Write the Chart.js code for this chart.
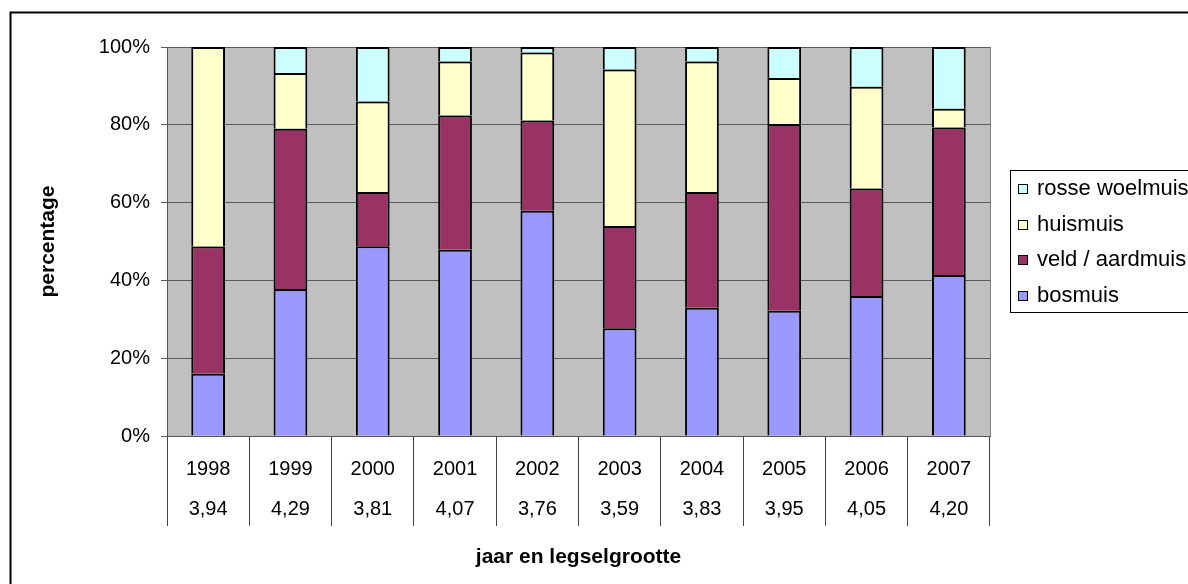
<!DOCTYPE html>
<html>
<head>
<meta charset="utf-8">
<script src="https://cdn.jsdelivr.net/npm/chart.js@4.4.1/dist/chart.umd.min.js"></script>
<style>
  html, body { margin: 0; padding: 0; background: #fff; overflow: hidden; }
  canvas { display: block; }
</style>
</head>
<body>
<canvas id="chart" width="1200" height="600"></canvas>
<script>
// Jaren en gemiddelde legselgrootte per jaar
const years = ['1998', '1999', '2000', '2001', '2002', '2003', '2004', '2005', '2006', '2007'];
const clutchSizes = ['3,94', '4,29', '3,81', '4,07', '3,76', '3,59', '3,83', '3,95', '4,05', '4,20'];

// Aandeel per muizensoort (%)
const bosmuis       = [16.0, 37.8, 48.8, 47.9, 57.9, 27.7, 33.0, 32.2, 36.0, 41.4];
const veldAardmuis  = [32.7, 41.2, 13.9, 34.5, 23.2, 26.3, 29.7, 48.0, 27.6, 37.9];
const huismuis      = [51.3, 14.3, 23.3, 13.9, 17.5, 40.2, 33.6, 11.8, 26.2,  4.8];
const rosseWoelmuis = [ 0.0,  6.7, 14.0,  3.7,  1.4,  5.8,  3.7,  8.0, 10.2, 15.9];

const yTicks = [0, 20, 40, 60, 80, 100];

const FONT = "'Liberation Sans', Arial, sans-serif";

// Grijze plotachtergrond, kader om de grafiek en de legenda met rand
const framePlugin = {
  id: 'frame',
  beforeDraw(chart) {
    const { ctx, chartArea: a } = chart;
    ctx.save();
    ctx.fillStyle = '#ffffff';
    ctx.fillRect(0, 0, chart.width, chart.height);
    ctx.fillStyle = '#C0C0C0';
    ctx.fillRect(a.left, a.top, a.right - a.left, a.bottom - a.top);
    ctx.lineWidth = 2;
    ctx.strokeStyle = '#000';
    ctx.strokeRect(10.5, 12.5, 3000, 3000);
    ctx.restore();
  },
  beforeDatasetsDraw(chart) {
    const { ctx, chartArea: a } = chart;
    ctx.save();
    ctx.strokeStyle = '#808080';
    ctx.lineWidth = 1;
    ctx.beginPath();
    ctx.moveTo(Math.round(a.right) + 0.5, a.top);
    ctx.lineTo(Math.round(a.right) + 0.5, a.bottom);
    ctx.stroke();
    ctx.restore();
  },
  afterDraw(chart) {
    const { ctx } = chart;
    const box = { x: 1010.5, y: 170.5, w: 400, h: 142 };
    ctx.save();
    ctx.strokeStyle = '#000';
    ctx.lineWidth = 1;
    ctx.strokeRect(box.x, box.y, box.w, box.h);
    const items = chart.data.datasets.slice().reverse();
    ctx.font = '22px ' + FONT;
    ctx.textBaseline = 'middle';
    ctx.textAlign = 'left';
    items.forEach((ds, i) => {
      const cy = 188 + i * 35.7;
      ctx.fillStyle = ds.backgroundColor;
      ctx.fillRect(1018.5, Math.round(cy - 4) + 0.5, 9, 9);
      ctx.strokeStyle = '#000';
      ctx.strokeRect(1018.5, Math.round(cy - 4) + 0.5, 9, 9);
      ctx.fillStyle = '#000';
      ctx.fillText(ds.label, 1037, cy + 1);
    });
    ctx.restore();
  }
};

const barStyle = {
  borderColor: '#000000',
  borderWidth: 2,
  barPercentage: 0.41,
  categoryPercentage: 1.0
};

new Chart(document.getElementById('chart'), {
  type: 'bar',
  data: {
    labels: years.map((y, i) => [y, clutchSizes[i]]),
    datasets: [
      { label: 'bosmuis', data: bosmuis, backgroundColor: '#9999FF', ...barStyle },
      { label: 'veld / aardmuis', data: veldAardmuis, backgroundColor: '#993366', ...barStyle },
      { label: 'huismuis', data: huismuis, backgroundColor: '#FFFFCC', ...barStyle },
      { label: 'rosse woelmuis', data: rosseWoelmuis, backgroundColor: '#CCFFFF', ...barStyle }
    ]
  },
  options: {
    responsive: false,
    animation: false,
    layout: { padding: { left: 0, top: 47, right: 210, bottom: 30 } },
    plugins: { legend: { display: false }, tooltip: { enabled: false } },
    scales: {
      x: {
        stacked: true,
        grid: { offset: true, drawOnChartArea: false, tickLength: 90, color: '#404040' },
        border: { color: '#555555' },
        ticks: {
          autoSkip: false, maxRotation: 0, minRotation: 0,
          padding: -76.5,
          color: '#000',
          font: { family: FONT, size: 20, lineHeight: 2 }
        },
        title: {
          display: true, text: 'jaar en legselgrootte', color: '#000',
          font: { family: FONT, size: 21, weight: 'bold' },
          padding: { top: 0, bottom: 0 }
        },
        afterFit(scale) { scale.height = 134; }
      },
      y: {
        stacked: true,
        min: 0, max: 100,
        afterBuildTicks(scale) { scale.ticks = yTicks.map(v => ({ value: v })); },
        ticks: {
          padding: 11, color: '#000',
          font: { family: FONT, size: 20 },
          callback: v => v + '%'
        },
        grid: { color: '#5a5a5a', tickLength: 6 },
        border: { color: '#555555' },
        title: {
          display: true, text: 'percentage', color: '#000',
          font: { family: FONT, size: 21, weight: 'bold' },
          padding: { top: 35.4, bottom: 0 }
        },
        afterFit(scale) { scale.width = 167; }
      }
    }
  },
  plugins: [framePlugin]
});
</script>
</body>
</html>
